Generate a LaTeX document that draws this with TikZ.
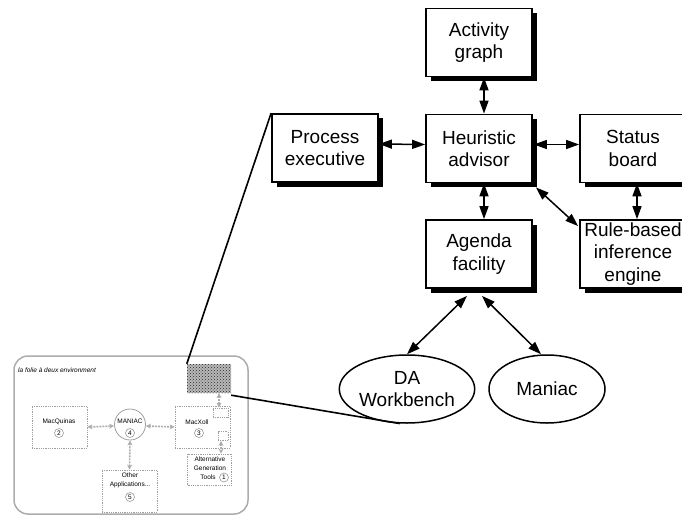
\documentclass[tikz,border=0pt]{standalone}
\usepackage{fontspec}
\setmainfont{Liberation Sans}
\usetikzlibrary{arrows.meta,shapes.geometric,shadows,patterns}
\begin{document}
\begin{tikzpicture}[x=1pt,y=-1pt,
  bigbox/.style={draw, line width=1.8pt, fill=white, minimum width=106pt,
    minimum height=68pt, align=center, inner sep=0pt,
    font=\fontsize{19}{22.5}\selectfont,
    drop shadow={shadow xshift=4.5pt, shadow yshift=-4.5pt, fill=black, opacity=1}},
  bigoval/.style={ellipse, draw, line width=1.5pt, fill=white, minimum width=116pt,
    minimum height=68pt, align=center, inner sep=0pt,
    font=\fontsize{19}{22.5}\selectfont},
  dbl/.style={line width=1.5pt,
    {Triangle[length=13pt,width=9pt]}-{Triangle[length=13pt,width=9pt]}},
  link/.style={line width=1.6pt},
  smallbox/.style={draw=gray!75, densely dotted, line width=0.8pt, inner sep=0pt},
  smalltxt/.style={font=\fontsize{6.5}{8.8}\selectfont, align=center, inner sep=0pt},
  numc/.style={circle, draw=gray!80, line width=0.6pt, inner sep=0pt, minimum size=9pt,
    font=\fontsize{6.5}{7}\selectfont},
  smallarr/.style={gray!65, line width=1.6pt, dash pattern=on 2pt off 1pt,
    {Stealth[length=5pt,width=5pt]}-{Stealth[length=5pt,width=5pt]}}
  ]
\useasboundingbox (0,0) rectangle (682,516);

% main architecture boxes
\node[bigbox] (activity)  at (479,42.5)  {Activity\\graph};
\node[bigbox] (heuristic) at (479,148.5) {Heuristic\\advisor};
\node[bigbox] (process)   at (325,148)   {Process\\executive};
\node[bigbox] (status)    at (633,148.5) {Status\\board};
\node[bigbox] (rule)      at (633,254)   {Rule-based\\inference\\engine};
\node[bigbox] (agenda)    at (479,254)   {Agenda\\facility};
\node[bigoval] (dawb)     at (407,389)   {DA\\Workbench};
\node[bigoval] (maniac)   at (547,389)   {Maniac};

% connections between the components
\draw[dbl] ([xshift=5pt]activity.south) -- ([xshift=5pt]heuristic.north);
\draw[dbl] ([yshift=4pt]process.east) -- ([yshift=4pt]heuristic.west);
\draw[dbl] ([yshift=4pt,xshift=1pt]heuristic.east) -- ([yshift=4pt]status.west);
\draw[dbl] ([xshift=4pt]status.south) -- ([xshift=4pt]rule.north);
\draw[dbl] ([xshift=5pt]heuristic.south) -- ([xshift=5pt]agenda.north);
\draw[dbl] ([shift={(3,4)}]heuristic.south east) -- ([shift={(-1,7)}]rule.north west);
\draw[dbl] ([shift={(-12,7)}]agenda.south) -- (dawb.north);
\draw[dbl] ([shift={(3,7)}]agenda.south) -- ([xshift=-6pt]maniac.north);

% the surrounding environment
\draw[gray!65, line width=1.5pt, rounded corners=14pt] (14,356) rectangle (248,514);
\node[anchor=west, inner sep=0pt, font=\fontsize{6.5}{7}\selectfont\itshape] (envlabel)
  at (18,370) {la folie à deux environment};

\node[minimum width=44pt, minimum height=29pt, inner sep=0pt,
  preaction={fill=gray!55}, pattern=crosshatch dots, pattern color=black!85] (hatch)
  at (209,378.5) {};

\node[smallbox, minimum width=55pt, minimum height=42pt] (macq) at (59.5,427) {};
\node[smalltxt] (macqtxt) at (59,422) {MacQuinas};
\node[numc] (n2) at (59,433) {2};

\node[smallbox, circle, draw=gray!75, solid, minimum size=31pt] (maniacs) at (130,424.5) {};
\node[smalltxt] (maniacstxt) at (130,421) {MANIAC};
\node[numc] (n4) at (130,433) {4};

\node[smallbox, minimum width=55pt, minimum height=42pt] (macx) at (202.5,427) {};
\node[smalltxt] (macxtxt) at (197,422) {MacXoll};
\node[numc] (n3) at (199,433) {3};
\node[smallbox, minimum width=15pt, minimum height=9pt] (subtop) at (220.5,412.5) {};
\node[smallbox, minimum width=10pt, minimum height=9pt] (subbot) at (223,436) {};

\node[smallbox, minimum width=44pt, minimum height=31pt] (alt) at (209.5,469.5) {};
\node[smalltxt] (alttxt) at (210,464) {Alternative\\Generation};
\node[smalltxt] (tools) at (208,477) {Tools};
\node[numc] (n1) at (224,477.5) {1};

\node[smallbox, minimum width=55pt, minimum height=42pt] (other) at (129.5,491) {};
\node[smalltxt] (othertxt) at (130,480) {Other\\Applications...};
\node[numc] (n5) at (130,497) {5};

% links inside the environment
\draw[smallarr] (macq.east) -- ([yshift=-1.5pt]maniacs.west);
\draw[smallarr] ([yshift=-1.5pt]maniacs.east) -- (macx.west);
\draw[smallarr] (maniacs.south) -- (other.north);
\draw[smallarr] ([xshift=10pt]hatch.south) -- ([xshift=-1.5pt]subtop.north);
\draw[smallarr] ([xshift=-2pt]subbot.south) -- ([xshift=11.5pt]alt.north);

% zoom lines from the overview to the detailed environment
\draw[link] (process.north west) -- (hatch.north west);
\draw[link] ([yshift=-2pt]hatch.south east) -- (dawb.258);
\end{tikzpicture}
\end{document}
